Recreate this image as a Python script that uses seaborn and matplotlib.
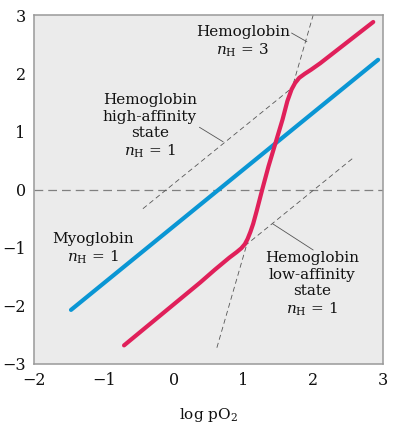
import numpy as np
import pandas as pd
import matplotlib
matplotlib.use("Agg")
import matplotlib.pyplot as plt
import seaborn as sns

# ---- data ----
myo_x = [-1.47, 2.93]
myo_y = [-2.07, 2.23]

hb_x = [-0.71, 0.38, 0.59, 0.80, 0.90, 0.97, 1.02, 1.06, 1.10, 1.14, 1.19, 1.27, 1.36, 1.46, 1.56,
        1.63, 1.69, 1.74, 1.80, 1.88, 1.97, 2.10, 2.86]
hb_y = [-2.68, -1.60, -1.38, -1.17, -1.08, -1.01, -0.94, -0.85, -0.73, -0.59, -0.37, 0.00, 0.40, 0.80, 1.20,
        1.52, 1.72, 1.83, 1.92, 1.99, 2.06, 2.17, 2.88]

high_x = [-0.44, 1.72]
high_y = [-0.33, 1.77]
low_x = [1.02, 2.56]
low_y = [-0.97, 0.53]
steep_x = [0.62, 2.0]
steep_y = [-2.72, 3.0]
zero_x = [-2, 3]
zero_y = [0, 0]

xticks = [-2, -1, 0, 1, 2, 3]
yticks = [-3, -2, -1, 0, 1, 2, 3]

sns.set_style("white", {"axes.facecolor": "#ebebeb"})
plt.rcParams["font.family"] = ["DejaVu Serif"]
plt.rcParams["mathtext.fontset"] = "dejavuserif"

fig = plt.figure(figsize=(3.97, 4.28), dpi=100)
ax = fig.add_axes([34 / 397, 1 - 364 / 428, (383 - 34) / 397, (364 - 15) / 428])
ax.set_facecolor("#ebebeb")

dash_col = "#555555"
sns.lineplot(x=zero_x, y=zero_y, ax=ax, color="#808080", lw=0.9, linestyle=(0, (7, 4)))
for xs, ys in [(high_x, high_y), (low_x, low_y), (steep_x, steep_y)]:
    sns.lineplot(x=xs, y=ys, ax=ax, color=dash_col, lw=0.6, linestyle=(0, (6, 4)), sort=False)

sns.lineplot(x=myo_x, y=myo_y, ax=ax, color="#0a96d4", lw=3.0, sort=False)
sns.lineplot(x=hb_x, y=hb_y, ax=ax, color="#e0205a", lw=3.0, sort=False)
ax.lines[-1].set_solid_joinstyle("round")

fs = 11
txt_kw = dict(ha="center", va="center", multialignment="center", fontsize=fs, color="#111111", linespacing=1.22)
ax.text(0.99, 2.53, "Hemoglobin\n$n_{\\mathrm{H}}$ = 3", **txt_kw)
ax.text(-0.34, 1.08, "Hemoglobin\nhigh-affinity\nstate\n$n_{\\mathrm{H}}$ = 1", **txt_kw)
ax.text(-1.16, -1.02, "Myoglobin\n$n_{\\mathrm{H}}$ = 1", **txt_kw)
ax.text(1.98, -1.64, "Hemoglobin\nlow-affinity\nstate\n$n_{\\mathrm{H}}$ = 1", **txt_kw)

lead_kw = dict(color="#555555", lw=0.6)
ax.plot([1.69, 1.91], [2.69, 2.54], **lead_kw)
ax.plot([0.37, 0.71], [1.07, 0.82], **lead_kw)
ax.plot([1.42, 2.0], [-0.59, -1.04], **lead_kw)

ax.set_xlim(-2, 3)
ax.set_ylim(-3, 3)
ax.set_xticks(xticks)
ax.set_yticks(yticks)
ax.set_xticklabels([f"{t}".replace("-", "\u2212") for t in xticks])
ax.set_yticklabels([f"{t}".replace("-", "\u2212") for t in yticks])
ax.tick_params(direction="in", length=6, width=1.1, color="#aaaaaa", labelsize=11.5, pad=6, labelcolor="#111111")
for s in ax.spines.values():
    s.set_color("#999999")
    s.set_linewidth(1.1)
    s.set_visible(True)
ax.set_xlabel("log pO$_2$", fontsize=11, color="#111111", labelpad=12)
ax.set_ylabel("")

fig.savefig("out.png", dpi=100)
